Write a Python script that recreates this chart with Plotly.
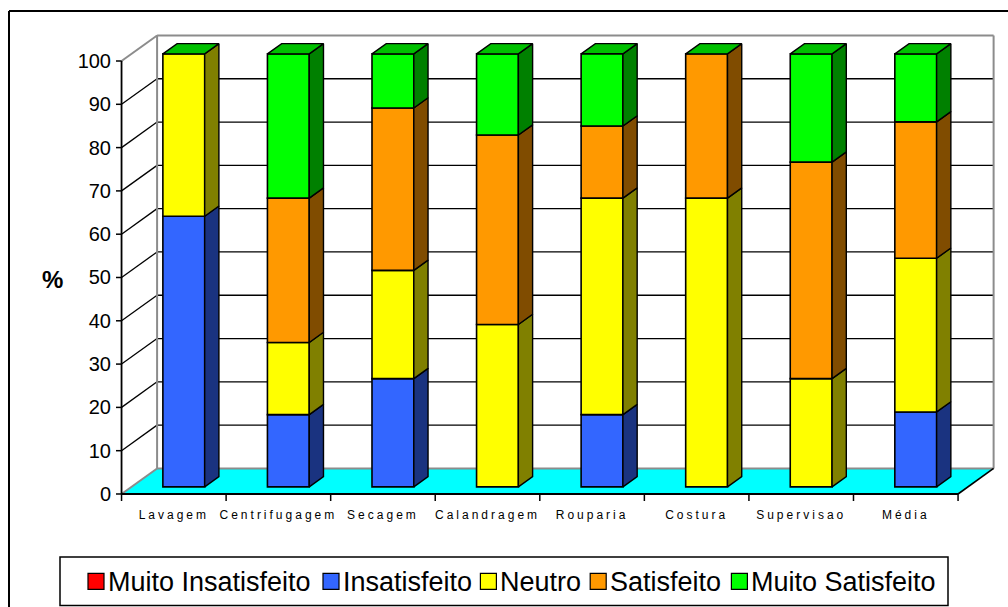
import plotly.graph_objects as go

# ---- data -------------------------------------------------------------
categories = ["Lavagem", "Centrifugagem", "Secagem", "Calandragem",
              "Rouparia", "Costura", "Supervisao", "Média"]
series_names = ["Muito Insatisfeito", "Insatisfeito", "Neutro",
                "Satisfeito", "Muito Satisfeito"]
muito_insatisfeito = [0, 0, 0, 0, 0, 0, 0, 0]
insatisfeito = [62.5, 16.67, 25.0, 0, 16.67, 0, 0, 17.3]
neutro = [37.5, 16.67, 25.0, 37.5, 50.0, 66.67, 25.0, 35.5]
satisfeito = [0, 33.33, 37.5, 43.75, 16.67, 33.33, 50.0, 31.5]
muito_satisfeito = [0, 33.33, 12.5, 18.75, 16.67, 0, 25.0, 15.7]
y_ticks = list(range(0, 101, 10))

series_values = [muito_insatisfeito, insatisfeito, neutro, satisfeito, muito_satisfeito]
front_colors = ["#FF0000", "#3366FF", "#FFFF00", "#FF9900", "#00FF00"]
side_colors = ["#800000", "#1A3380", "#808000", "#804C00", "#008000"]
top_color = "#00C000"

# ---- pseudo-3D geometry (axis units) -----------------------------------
DX, DY = 0.34, 5.9          # depth of floor / walls
BAR_FRONT, BAR_BACK = 0.28, 0.68  # bar depth position as fraction of DX/DY
BAR_W = 0.40
X_MIN, X_MAX = -0.553, 7.882
Y_MIN, Y_MAX = -1.62, 107.16
n = len(categories)
x_left, x_right = -0.5, n - 0.5

bx, by = DX * BAR_FRONT, DY * BAR_FRONT
bdx, bdy = DX * (BAR_BACK - BAR_FRONT), DY * (BAR_BACK - BAR_FRONT)

FONT = "Liberation Sans, Arial, sans-serif"
GRAY = "#8C8C8C"

fig = go.Figure()

# front faces of the stacked bars
cum = [0.0] * n
bases = []
for name, vals, col in zip(series_names, series_values, front_colors):
    base = [c + by for c in cum]
    bases.append(list(cum))
    fig.add_trace(go.Bar(
        x=[i + bx for i in range(n)],
        y=[v if v > 0 else None for v in vals],
        base=base, width=BAR_W, name=name,
        marker=dict(color=col, line=dict(color="black", width=1.6)),
        showlegend=False, hoverinfo="skip",
    ))
    cum = [c + v for c, v in zip(cum, vals)]
totals = cum

# side faces, one polygon per non-empty segment
for name, vals, low, col in zip(series_names, series_values, bases, side_colors):
    xs, ys = [], []
    for i, v in enumerate(vals):
        if v <= 0:
            continue
        xr = i + bx + BAR_W / 2
        b = low[i] + by
        t = low[i] + v + by
        xs += [xr, xr + bdx, xr + bdx, xr, xr, None]
        ys += [b, b + bdy, t + bdy, t, b, None]
    if xs:
        fig.add_trace(go.Scatter(
            x=xs, y=ys, mode="lines", fill="toself", fillcolor=col,
            line=dict(color="black", width=1.4), showlegend=False, hoverinfo="skip",
        ))

# top faces of the stacks
xs, ys = [], []
for i, tot in enumerate(totals):
    xl = i + bx - BAR_W / 2
    xr = i + bx + BAR_W / 2
    t = tot + by
    xs += [xl, xl + bdx, xr + bdx, xr, xl, None]
    ys += [t, t + bdy, t + bdy, t, t, None]
fig.add_trace(go.Scatter(
    x=xs, y=ys, mode="lines", fill="toself", fillcolor=top_color,
    line=dict(color="black", width=1.4), showlegend=False, hoverinfo="skip",
))

# ---- walls, floor and grid --------------------------------------------
shapes = []


def seg(x0, y0, x1, y1, color, width, layer="below"):
    shapes.append(dict(type="line", xref="x", yref="y", x0=x0, y0=y0, x1=x1, y1=y1,
                       line=dict(color=color, width=width), layer=layer))


floor = (f"M{x_left},0 L{x_right},0 L{x_right + DX},{DY} "
         f"L{x_left + DX},{DY} Z")
shapes.append(dict(type="path", xref="x", yref="y", path=floor,
                   fillcolor="#00FFFF", line=dict(width=0), layer="below"))

for v in y_ticks[1:-1]:
    seg(x_left, v, x_left + DX, v + DY, "black", 1.3)
    seg(x_left + DX, v + DY, x_right + DX, v + DY, "black", 1.3)

top = y_ticks[-1]
seg(x_left, top, x_left + DX, top + DY, GRAY, 2)
seg(x_left + DX, top + DY, x_right + DX, top + DY, GRAY, 2)
seg(x_left + DX, DY, x_left + DX, top + DY, GRAY, 2)
seg(x_right + DX, DY, x_right + DX, top + DY, GRAY, 2)
seg(x_left, 0, x_left + DX, DY, GRAY, 2)
seg(x_left + DX, DY, x_right + DX, DY, GRAY, 2)
seg(x_right, 0, x_right + DX, DY, "black", 1.6)

# front value axis, its ticks, and the category axis
seg(x_left, 0, x_left, top, "black", 1.8, "above")
for v in y_ticks:
    seg(X_MIN, v, x_left, v, "black", 1.5, "above")
seg(x_left, 0, x_right, 0, "black", 1.8, "above")
for k in range(n + 1):
    seg(k - 0.5, 0, k - 0.5, Y_MIN, "black", 1.5, "above")

# ---- pixel helpers for paper-referenced decorations ---------------------
W, H = 1008, 607
ML, MR, MT, MB = 116, 10, 30, 106
PW, PH = W - ML - MR, H - MT - MB


def px(x):
    return (x - ML) / PW


def py(y):
    return (H - MB - y) / PH


# outer chart border: only the top and left edges fall inside the page
shapes.append(dict(type="line", xref="paper", yref="paper",
                   x0=px(9), y0=py(11), x1=px(1008), y1=py(11),
                   line=dict(color="black", width=2), layer="above"))
shapes.append(dict(type="line", xref="paper", yref="paper",
                   x0=px(9), y0=py(11), x1=px(9), y1=py(H),
                   line=dict(color="black", width=2), layer="above"))

# legend
legend_box = (60, 557, 948, 605.5)
shapes.append(dict(type="rect", xref="paper", yref="paper",
                   x0=px(legend_box[0]), y0=py(legend_box[3]),
                   x1=px(legend_box[2]), y1=py(legend_box[1]),
                   line=dict(color="black", width=1.5), fillcolor="white",
                   layer="above"))
legend_x = [88, 323, 480.4, 590.2, 731.4]
annotations = []
for name, col, lx in zip(series_names, front_colors, legend_x):
    shapes.append(dict(type="rect", xref="paper", yref="paper",
                       x0=px(lx), y0=py(589.3), x1=px(lx + 16), y1=py(573.3),
                       line=dict(color="black", width=1.2), fillcolor=col,
                       layer="above"))
    annotations.append(dict(xref="paper", yref="paper", x=px(lx + 17.5), y=py(581.5),
                            text=name, showarrow=False, xanchor="left", yanchor="middle",
                            font=dict(family=FONT, size=27, color="black")))

annotations.append(dict(xref="paper", yref="paper", x=px(52.5), y=py(279),
                        text="<b>%</b>", showarrow=False,
                        xanchor="center", yanchor="middle",
                        font=dict(family=FONT, size=24, color="black")))

fig.update_layout(
    width=W, height=H,
    margin=dict(l=ML, r=MR, t=MT, b=MB),
    paper_bgcolor="white", plot_bgcolor="rgba(0,0,0,0)",
    barmode="overlay",
    showlegend=False,
    shapes=shapes,
    annotations=annotations,
    xaxis=dict(range=[X_MIN, X_MAX], tickvals=list(range(n)), ticktext=categories,
               ticks="", showgrid=False, zeroline=False, showline=False,
               ticklabelstandoff=5,
               tickfont=dict(family=FONT, size=12, color="black")),
    yaxis=dict(range=[Y_MIN, Y_MAX], tickvals=y_ticks, ticks="",
               showgrid=False, zeroline=False, showline=False,
               ticklabelstandoff=4,
               tickfont=dict(family=FONT, size=20, color="black")),
)

# widen the category labels' tracking and keep the page free of scrollbars
post = ("document.documentElement.style.overflow='hidden';"
        "document.body.style.overflow='hidden';"
        "document.querySelectorAll('.xtick text').forEach(function(t){"
        "t.style.letterSpacing='3px';});")
fig.write_html("out.html", post_script=post)
